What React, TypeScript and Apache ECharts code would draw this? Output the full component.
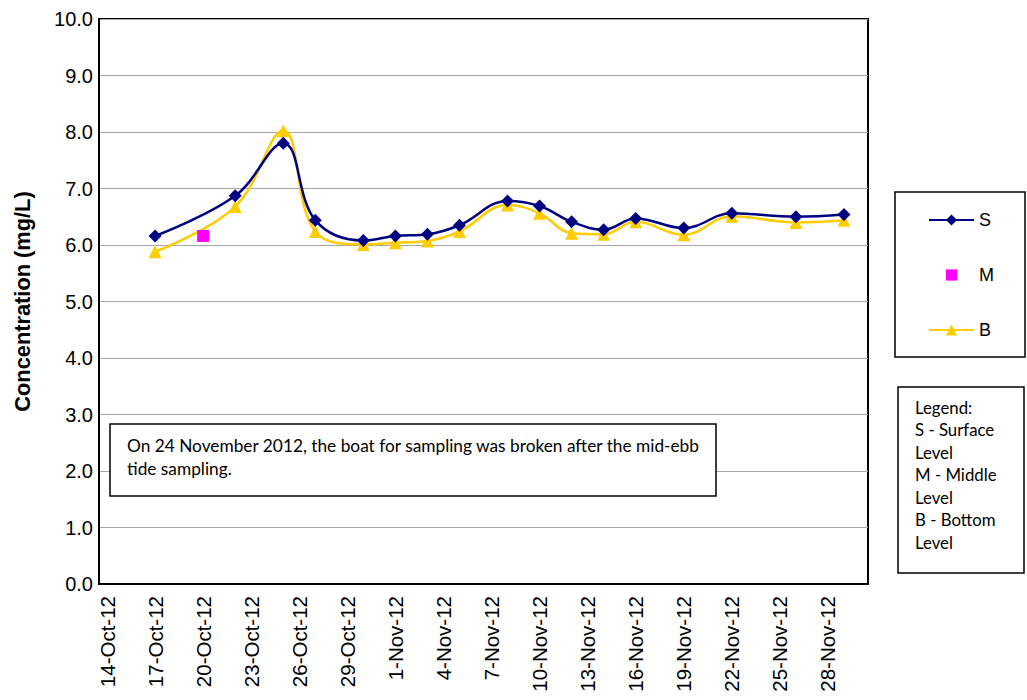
import React, { useEffect, useRef } from "react";
import * as echarts from "echarts";

const MONTHS = ["Jan", "Feb", "Mar", "Apr", "May", "Jun", "Jul", "Aug", "Sep", "Oct", "Nov", "Dec"];
const AXIS_START = new Date(2012, 9, 14);
const AXIS_DAYS = 48;
const dayLabels: string[] = [];
for (let i = 0; i < AXIS_DAYS; i++) {
  const d = new Date(AXIS_START.getFullYear(), AXIS_START.getMonth(), AXIS_START.getDate() + i);
  dayLabels.push(`${d.getDate()}-${MONTHS[d.getMonth()]}-12`);
}

const sampleDates = [
  "17-Oct-12", "22-Oct-12", "25-Oct-12", "27-Oct-12", "30-Oct-12", "1-Nov-12", "3-Nov-12",
  "5-Nov-12", "8-Nov-12", "10-Nov-12", "12-Nov-12", "14-Nov-12", "16-Nov-12", "19-Nov-12",
  "22-Nov-12", "26-Nov-12", "29-Nov-12",
];
const surface = [6.16, 6.87, 7.8, 6.44, 6.08, 6.16, 6.19, 6.35, 6.78, 6.69, 6.41, 6.27, 6.47, 6.3, 6.56, 6.5, 6.54];
const bottom = [5.88, 6.68, 8.02, 6.24, 6.01, 6.04, 6.07, 6.24, 6.71, 6.56, 6.21, 6.19, 6.41, 6.18, 6.51, 6.4, 6.44];
const middleDates = ["20-Oct-12"];
const middle = [6.16];

const yTicks = [0, 1, 2, 3, 4, 5, 6, 7, 8, 9, 10];

const noteLines = [
  "On 24 November 2012, the boat for sampling was broken after the mid-ebb",
  "tide sampling.",
];
const legendNoteLines = ["Legend:", "S - Surface", "Level", "M - Middle", "Level", "B - Bottom", "Level"];

const AX_FONT = "'Liberation Sans', Arial, sans-serif";
const NOTE_FONT = "Lato, 'Open Sans', sans-serif";

export default function App() {
  const ref = useRef<HTMLDivElement>(null);
  useEffect(() => {
    if (!ref.current) return;
    const chart = echarts.init(ref.current, undefined, { renderer: "svg" });
    const pair = (dates: string[], vals: number[]) => dates.map((d, i) => [d, vals[i]]);
    const graphics: any[] = [
      {
        type: "rect",
        shape: { x: 110, y: 424, width: 606, height: 72 },
        style: { fill: "#fff", stroke: "#000", lineWidth: 1.5 },
        z: 10,
      },
      ...noteLines.map((t, i) => ({
        type: "text",
        x: 127,
        y: 445 + i * 23,
        style: { text: t, font: `17.3px ${NOTE_FONT}`, fill: "#000", textVerticalAlign: "middle" },
        z: 11,
      })),
      {
        type: "rect",
        shape: { x: 895, y: 192, width: 130, height: 165 },
        style: { fill: "#fff", stroke: "#000", lineWidth: 1.5 },
        z: 1,
      },
      {
        type: "rect",
        shape: { x: 898, y: 387, width: 126, height: 186 },
        style: { fill: "#fff", stroke: "#000", lineWidth: 1.5 },
        z: 1,
      },
      ...legendNoteLines.map((t, i) => ({
        type: "text",
        x: 915,
        y: 407 + i * 22.5,
        style: { text: t, font: `16.8px ${NOTE_FONT}`, fill: "#000", textVerticalAlign: "middle" },
        z: 2,
      })),
    ];
    chart.setOption({
      animation: false,
      backgroundColor: "#fff",
      grid: { left: 99, top: 19, right: 159, bottom: 116, show: true, borderColor: "#000", borderWidth: 2 },
      legend: {
        orient: "vertical",
        left: 923,
        top: 206,
        itemWidth: 45,
        itemHeight: 14,
        itemGap: 37,
        textStyle: { fontFamily: AX_FONT, fontSize: 18, color: "#000" },
        data: ["S", "M", "B"],
        z: 5,
      },
      xAxis: {
        type: "category",
        data: dayLabels,
        boundaryGap: true,
        axisLine: { lineStyle: { color: "#000", width: 2 } },
        axisTick: { show: false },
        axisLabel: {
          interval: 2,
          rotate: 90,
          margin: 12,
          fontFamily: AX_FONT,
          fontSize: 20.5,
          color: "#000",
        },
        splitLine: { show: false },
      },
      yAxis: {
        type: "value",
        min: yTicks[0],
        max: yTicks[yTicks.length - 1],
        interval: 1,
        name: "Concentration (mg/L)",
        nameLocation: "middle",
        nameRotate: 90,
        nameGap: 66,
        nameTextStyle: { fontFamily: AX_FONT, fontSize: 21.8, fontWeight: "bold", color: "#000" },
        axisLine: { show: true, lineStyle: { color: "#000", width: 2 } },
        axisTick: { show: false },
        axisLabel: {
          margin: 6,
          fontFamily: AX_FONT,
          fontSize: 20,
          color: "#000",
          formatter: (v: number) => v.toFixed(1),
        },
        splitLine: { lineStyle: { color: "#a6a6a6", width: 1 } },
      },
      series: [
        {
          name: "S",
          type: "line",
          data: pair(sampleDates, surface),
          smooth: 0.4,
          showAllSymbol: true,
          symbol: "diamond",
          symbolSize: 13,
          lineStyle: { color: "#000080", width: 2.5 },
          itemStyle: { color: "#000080" },
          z: 3,
        },
        {
          name: "M",
          type: "line",
          data: pair(middleDates, middle),
          showAllSymbol: true,
          symbol: "rect",
          symbolSize: 12,
          lineStyle: { color: "#ff00ff", width: 0, opacity: 0 },
          itemStyle: { color: "#ff00ff" },
          z: 4,
        },
        {
          name: "B",
          type: "line",
          data: pair(sampleDates, bottom),
          smooth: 0.4,
          showAllSymbol: true,
          symbol: "triangle",
          symbolSize: 13,
          lineStyle: { color: "#ffcc00", width: 2.5 },
          itemStyle: { color: "#ffcc00" },
          z: 2,
        },
      ],
      graphic: graphics,
    });
    return () => chart.dispose();
  }, []);
  return (
    <div
      ref={ref}
      style={{ position: "fixed", left: 0, top: 0, width: 1027, height: 700, background: "#fff" }}
    />
  );
}
